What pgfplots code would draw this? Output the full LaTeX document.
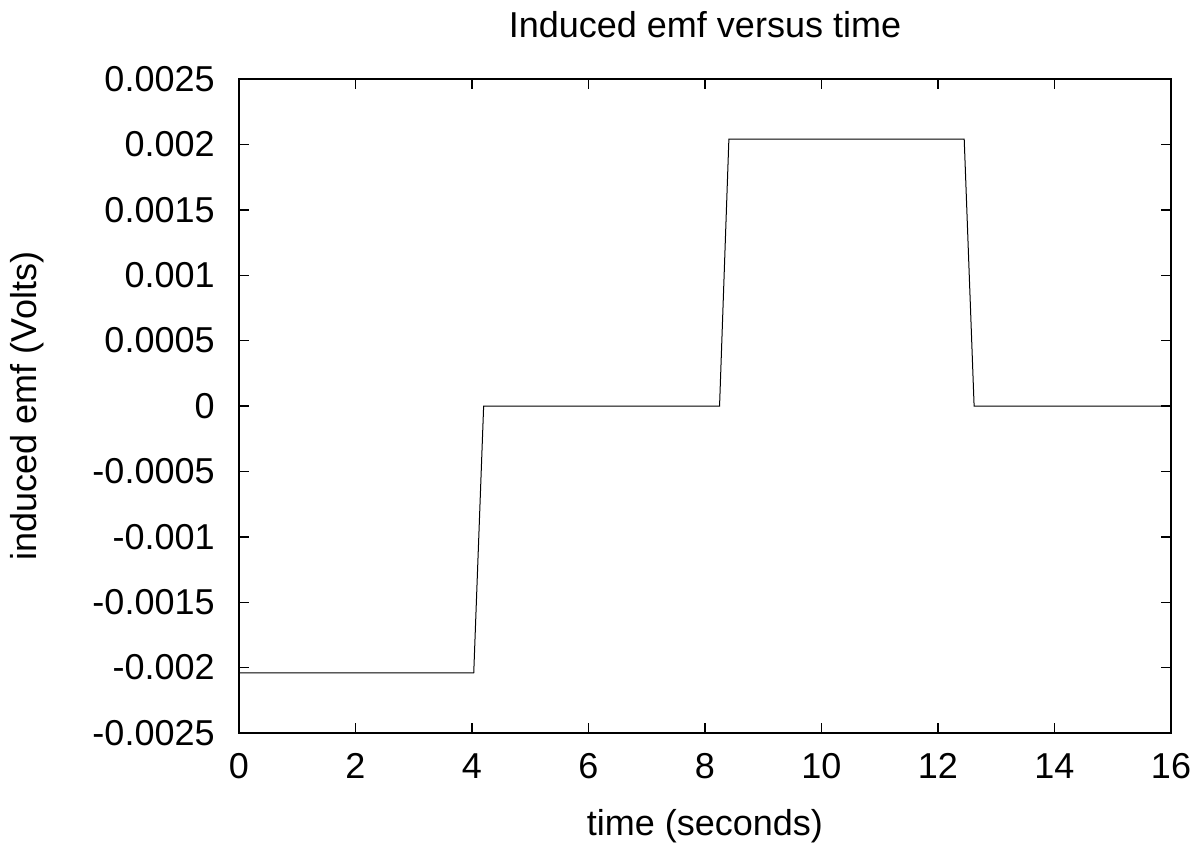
\documentclass[border=0pt]{standalone}
\usepackage{fontspec}
\setmainfont{Liberation Sans}
\usepackage{pgfplots}
\pgfplotsset{compat=1.18}
\begin{document}
\begin{tikzpicture}
\begin{axis}[
  scale only axis,
  width=466pt, height=327pt,
  xmin=0, xmax=16, ymin=-0.0025, ymax=0.0025,
  font=\fontsize{18}{21}\selectfont,
  axis line style={line width=0.7pt},
  tick style={line width=0.7pt, black},
  tick align=inside,
  major tick length=5pt,
  xtick={0,2,4,6,8,10,12,14,16},
  xticklabels={0,2,4,6,8,10,12,14,16},
  ytick={-0.0025,-0.002,-0.0015,-0.001,-0.0005,0,0.0005,0.001,0.0015,0.002,0.0025},
  yticklabels={-0.0025,-0.002,-0.0015,-0.001,-0.0005,0,0.0005,0.001,0.0015,0.002,0.0025},
  scaled y ticks=false,
  yticklabel style={anchor=east, inner sep=0pt, xshift=-12pt},
  xticklabel style={anchor=north, inner sep=0pt, yshift=-10pt},
  every axis title shift=0pt,
  title={Induced emf versus time},
  title style={at={(axis description cs:0.5,1)}, anchor=base, yshift=21pt, inner sep=0pt},
  xlabel={time (seconds)},
  xlabel style={at={(axis description cs:0.5,0)}, anchor=base, yshift=-51pt, inner sep=0pt},
  ylabel={induced emf (Volts)},
  ylabel style={at={(axis description cs:0,0.5)}, anchor=center, yshift=106pt, inner sep=0pt},
]
\addplot[black, line width=0.5pt] coordinates {
  (0,-0.00204) (4.03,-0.00204) (4.20,0) (8.25,0) (8.41,0.00204)
  (12.45,0.00204) (12.62,0) (16,0)
};
\coordinate (bl) at (rel axis cs:0,0);
\end{axis}
\path (bl) ++(-119.5pt,-56.5pt) rectangle ++(599.5pt,423pt);
\end{tikzpicture}
\end{document}
